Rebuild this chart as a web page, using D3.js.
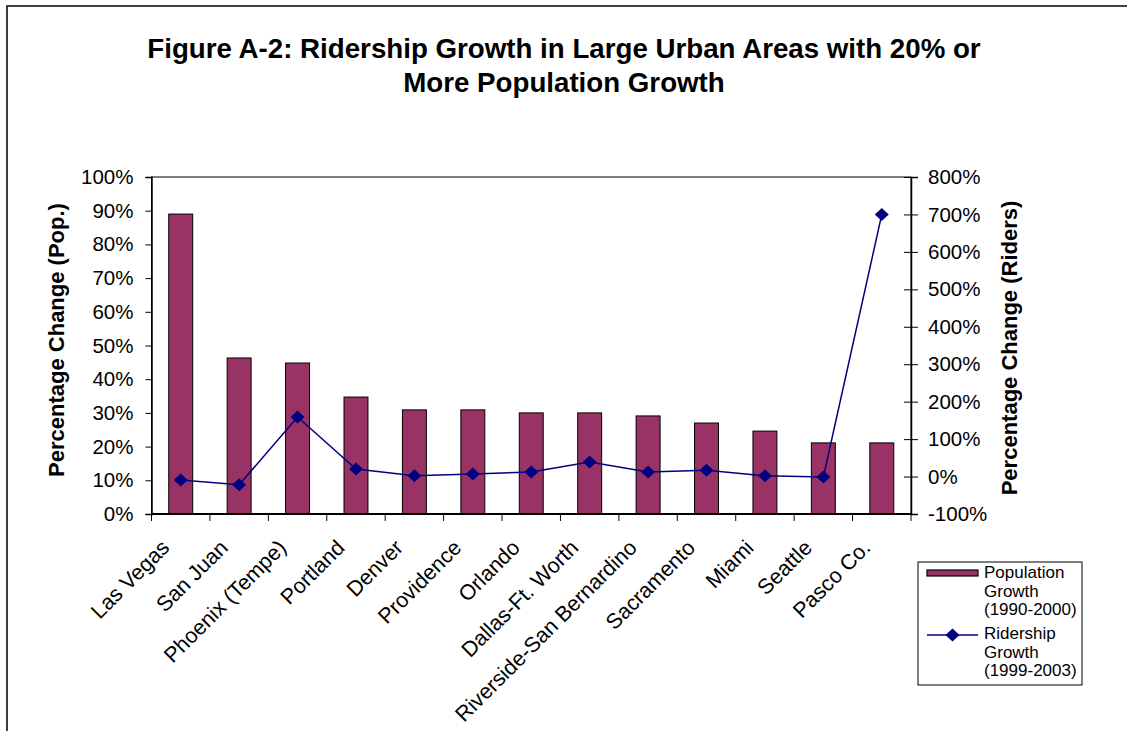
<!DOCTYPE html>
<html lang="en">
<head>
    <meta charset="UTF-8">
    <script src="https://d3js.org/d3.v7.min.js"></script>
    <title>Figure A-2</title>
    <style>
        body { margin: 0; background: #fff; }
        svg text { font-family: "Liberation Sans", Arial, sans-serif; fill: #000; }
        .tick text { font-size: 20.5px; }
    </style>
</head>
<body>
    <script>
        const cities = ["Las Vegas", "San Juan", "Phoenix (Tempe)", "Portland", "Denver", "Providence",
            "Orlando", "Dallas-Ft. Worth", "Riverside-San Bernardino", "Sacramento", "Miami", "Seattle", "Pasco Co."];
        // population growth 1990-2000
        const popGrowth = [0.89, 0.463, 0.448, 0.347, 0.309, 0.309, 0.30, 0.30, 0.291, 0.27, 0.246, 0.211, 0.211];
        // ridership growth 1999-2003
        const riderGrowth = [-0.09, -0.22, 1.59, 0.20, 0.02, 0.07, 0.12, 0.39, 0.12, 0.17, 0.02, -0.01, 7.0];
        const leftTicks = [0, 0.1, 0.2, 0.3, 0.4, 0.5, 0.6, 0.7, 0.8, 0.9, 1.0];
        const rightTicks = [-1, 0, 1, 2, 3, 4, 5, 6, 7, 8];

        const width = 1127;
        const height = 731;
        const plot = {left: 151.5, right: 911, top: 177, bottom: 514};
        const pct = d => Math.round(d * 100) + '%';

        const svg = d3.select('body')
            .append('svg')
            .attr('width', width)
            .attr('height', height);

        // outer chart frame
        svg.append('rect')
            .attr('x', 7).attr('y', 6)
            .attr('width', 1130).attr('height', 740)
            .attr('fill', 'none')
            .attr('stroke', '#000')
            .attr('stroke-width', 1.5);

        const x = d3.scaleBand()
            .domain(cities)
            .range([plot.left, plot.right])
            .paddingInner(0.59)
            .paddingOuter(0.295);

        const yL = d3.scaleLinear().domain([0, 1]).range([plot.bottom, plot.top]);
        const yR = d3.scaleLinear().domain([-1, 8]).range([plot.bottom, plot.top]);

        // plot frame
        svg.append('rect')
            .attr('x', plot.left).attr('y', plot.top)
            .attr('width', plot.right - plot.left)
            .attr('height', plot.bottom - plot.top)
            .attr('fill', 'none')
            .attr('stroke', '#000')
            .attr('stroke-width', 1);

        // bars
        svg.selectAll('rect.bar')
            .data(popGrowth).enter()
            .append('rect')
            .attr('class', 'bar')
            .attr('x', (d, i) => x(cities[i]))
            .attr('y', d => yL(d))
            .attr('width', x.bandwidth())
            .attr('height', d => yL(0) - yL(d))
            .attr('fill', '#993366')
            .attr('stroke', '#000')
            .attr('stroke-width', 1);

        // left axis
        const leftAxis = svg.append('g')
            .attr('transform', `translate(${plot.left}, 0)`)
            .call(d3.axisLeft(yL).tickValues(leftTicks).tickFormat(pct).tickSize(6).tickPadding(12));
        leftAxis.select('.domain').attr('stroke-width', 1.5);

        // right axis, ticks crossing the line
        const rightAxis = svg.append('g')
            .attr('transform', `translate(${plot.right}, 0)`)
            .call(d3.axisRight(yR).tickValues(rightTicks).tickFormat(pct).tickSize(7).tickPadding(10));
        rightAxis.selectAll('.tick line').attr('x1', -7);
        rightAxis.select('.domain').attr('stroke-width', 1.5);

        // bottom axis line with ticks between categories
        const step = x.step();
        const bottomTicks = d3.range(cities.length + 1).map(i => plot.left + i * step);
        svg.append('line')
            .attr('x1', plot.left).attr('x2', plot.right)
            .attr('y1', plot.bottom).attr('y2', plot.bottom)
            .attr('stroke', '#000').attr('stroke-width', 2);
        svg.selectAll('line.xtick')
            .data(bottomTicks).enter()
            .append('line')
            .attr('class', 'xtick')
            .attr('x1', d => d).attr('x2', d => d)
            .attr('y1', plot.bottom).attr('y2', plot.bottom + 7)
            .attr('stroke', '#000');

        // category labels
        svg.selectAll('text.cat')
            .data(cities).enter()
            .append('text')
            .attr('class', 'cat')
            .attr('transform', d => `translate(${x(d) + x.bandwidth() / 2 - 10}, 549) rotate(-45)`)
            .attr('text-anchor', 'end')
            .attr('font-size', 21.5)
            .text(d => d);

        // ridership line
        const line = d3.line()
            .x((d, i) => x(cities[i]) + x.bandwidth() / 2)
            .y(d => yR(d));
        svg.append('path')
            .datum(riderGrowth)
            .attr('d', line)
            .attr('fill', 'none')
            .attr('stroke', '#000080')
            .attr('stroke-width', 1.5);

        const diamond = 'M0,-6.5L7,0L0,6.5L-7,0Z';
        svg.selectAll('path.pt')
            .data(riderGrowth).enter()
            .append('path')
            .attr('class', 'pt')
            .attr('d', diamond)
            .attr('transform', (d, i) => `translate(${x(cities[i]) + x.bandwidth() / 2}, ${yR(d)})`)
            .attr('fill', '#000080');

        // title
        const title = svg.append('text')
            .attr('text-anchor', 'middle')
            .attr('font-size', 27.7)
            .attr('font-weight', 'bold');
        title.append('tspan').attr('x', 564).attr('y', 58)
            .text('Figure A-2: Ridership Growth in Large Urban Areas with 20% or');
        title.append('tspan').attr('x', 564).attr('y', 92)
            .text('More Population Growth');

        // axis titles
        svg.append('text')
            .attr('transform', 'translate(64, 340) rotate(-90)')
            .attr('text-anchor', 'middle')
            .attr('font-size', 22)
            .attr('font-weight', 'bold')
            .text('Percentage Change (Pop.)');
        svg.append('text')
            .attr('transform', 'translate(1017, 348) rotate(-90)')
            .attr('text-anchor', 'middle')
            .attr('font-size', 22)
            .attr('font-weight', 'bold')
            .text('Percentage Change (Riders)');

        // legend
        const lg = svg.append('g').attr('transform', 'translate(918, 562)');
        lg.append('rect')
            .attr('width', 164).attr('height', 123)
            .attr('fill', '#fff').attr('stroke', '#000').attr('stroke-width', 1);
        lg.append('rect')
            .attr('x', 9).attr('y', 8).attr('width', 51).attr('height', 6)
            .attr('fill', '#993366').attr('stroke', '#000').attr('stroke-width', 1.2);
        lg.append('line')
            .attr('x1', 9).attr('x2', 60).attr('y1', 73).attr('y2', 73)
            .attr('stroke', '#000080').attr('stroke-width', 1.5);
        lg.append('path')
            .attr('d', diamond)
            .attr('transform', 'translate(34.5, 73)')
            .attr('fill', '#000080');
        const legendLines = [
            ['Population', 'Growth', '(1990-2000)'],
            ['Ridership', 'Growth', '(1999-2003)']
        ];
        legendLines.forEach((lines, k) => {
            const t = lg.append('text').attr('font-size', 17);
            lines.forEach((s, j) => {
                t.append('tspan').attr('x', 66).attr('y', 16 + k * 61 + j * 18.5).text(s);
            });
        });
    </script>
</body>
</html>
